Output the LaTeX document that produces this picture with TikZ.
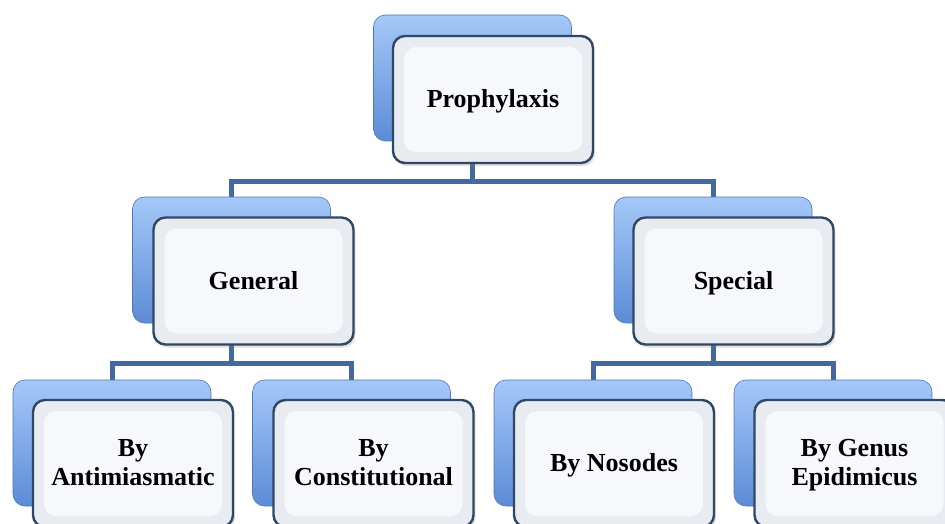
\documentclass[tikz,border=0pt]{standalone}
\usepackage{fontspec}
\setmainfont{Liberation Serif}
\usetikzlibrary{shadows,backgrounds}

\definecolor{linkblue}{RGB}{67,106,160}
\definecolor{edgeblue}{RGB}{48,72,102}
\definecolor{topblue}{RGB}{165,200,248}
\definecolor{botblue}{RGB}{92,140,215}
\definecolor{paleface}{RGB}{246,248,252}
\definecolor{rimgray}{RGB}{232,235,240}

\tikzset{
  backbox/.style={rounded corners=12pt, minimum width=198pt, minimum height=126pt,
    top color=topblue, bottom color=botblue, draw=botblue!85!black, line width=0.6pt},
  frontbox/.style={rounded corners=12pt, minimum width=200pt, minimum height=127pt,
    draw=edgeblue, line width=2.4pt, fill=rimgray, align=center,
    font=\fontsize{26}{29}\selectfont\bfseries, text depth=2pt,
    drop shadow={opacity=0.25,shadow xshift=2pt,shadow yshift=-3pt},
    path picture={\fill[paleface] ([shift={(11pt,-11pt)}]path picture bounding box.north west)
      rectangle ([shift={(-11pt,11pt)}]path picture bounding box.south east);}},
  link/.style={draw=linkblue, line width=5pt}
}

\begin{document}
\begin{tikzpicture}[x=1pt,y=-1pt]
    \useasboundingbox (0,0) rectangle (945,524);
    \clip (0,0) rectangle (945,524);

    % top
    \node[backbox]  (proback) at (472.5,78) {};
    \node[frontbox] (pro)     at (493,99.5) {Prophylaxis};

    % middle
    \node[backbox]  (genback) at (231.5,260) {};
    \node[frontbox] (gen)     at (253.5,281) {General};
    \node[backbox]  (speback) at (713,260) {};
    \node[frontbox] (spe)     at (733.5,281) {Special};

    % leaves
    \node[backbox]  (antiback)  at (112,443) {};
    \node[frontbox] (anti)      at (133,463.5) {By\\Antimiasmatic};
    \node[backbox]  (consback)  at (351.5,443) {};
    \node[frontbox] (cons)      at (373.5,463.5) {By\\Constitutional};
    \node[backbox]  (nosoback)  at (593,443) {};
    \node[frontbox] (noso)      at (614,463.5) {By Nosodes};
    \node[backbox]  (genusback) at (833,443) {};
    \node[frontbox] (genus)     at (854.5,463.5) {By Genus\\Epidimicus};

    \coordinate (j1) at (472.5,181);
    \coordinate (j2) at (231.5,363);
    \coordinate (j3) at (713,363);

    \begin{pgfonlayer}{background}
    \draw[link] (proback.center) -- (j1);
    \draw[link] (genback.north) -- (genback.north |- j1) -- (speback.north |- j1) -- (speback.north);
    \draw[link] (genback.center) -- (j2);
    \draw[link] (antiback.north) -- (antiback.north |- j2) -- (consback.north |- j2) -- (consback.north);
    \draw[link] (speback.center) -- (j3);
    \draw[link] (nosoback.north) -- (nosoback.north |- j3) -- (genusback.north |- j3) -- (genusback.north);
    \end{pgfonlayer}

\end{tikzpicture}
\end{document}
